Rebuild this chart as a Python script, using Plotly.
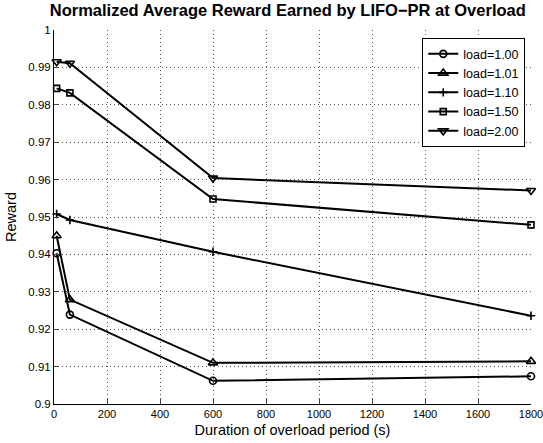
import plotly.graph_objects as go

durations = [10, 60, 600, 1800]
series_names = ["load=1.00", "load=1.01", "load=1.10", "load=1.50", "load=2.00"]
reward_100 = [0.9403, 0.9239, 0.9062, 0.9074]
reward_101 = [0.9450, 0.9279, 0.9110, 0.9114]
reward_110 = [0.9508, 0.9492, 0.9407, 0.9236]
reward_150 = [0.9844, 0.9832, 0.9548, 0.9479]
reward_200 = [0.9915, 0.9911, 0.9604, 0.9571]
series_values = [reward_100, reward_101, reward_110, reward_150, reward_200]
symbols = ["circle-open", "triangle-up-open", "cross-thin-open", "square-open", "triangle-down-open"]
sizes = [7, 8, 6, 6, 8]

y_ticks = [0.9, 0.91, 0.92, 0.93, 0.94, 0.95, 0.96, 0.97, 0.98, 0.99, 1.0]
y_ticktext = ["0.9", "0.91", "0.92", "0.93", "0.94", "0.95", "0.96", "0.97", "0.98", "0.99", "1"]
x_ticks = [0, 200, 400, 600, 800, 1000, 1200, 1400, 1600, 1800]

fig = go.Figure()
for name, vals, sym, sz in zip(series_names, series_values, symbols, sizes):
    fig.add_trace(go.Scatter(
        x=durations, y=vals, name=name, mode="lines+markers",
        line=dict(color="black", width=2),
        marker=dict(symbol=sym, size=sz, color="black",
                    line=dict(color="black", width=1.6)),
        cliponaxis=False,
    ))

font_family = "'Liberation Sans', Arial, Helvetica, sans-serif"
fig.update_layout(
    width=543, height=443,
    margin=dict(l=54, r=12, t=30, b=39),
    paper_bgcolor="white", plot_bgcolor="white",
    font=dict(family=font_family, size=11, color="black"),
    title=dict(text="<b>Normalized Average Reward Earned by LIFO\u2212PR at Overload</b>",
               x=0.53, xanchor="center", y=0.99, yanchor="top",
               font=dict(size=16.5, family=font_family, color="black")),
    showlegend=True,
    legend=dict(x=0.772, y=0.978, xanchor="left", yanchor="top",
                bgcolor="white", bordercolor="black", borderwidth=1,
                font=dict(size=12.5, family=font_family), itemwidth=30,
                tracegroupgap=0),
)
grid_dash = "1px,3px"
fig.update_xaxes(
    range=[0, 1800], tickvals=x_ticks, ticks="inside", ticklen=5,
    showline=True, linecolor="black", linewidth=1, mirror=False,
    showgrid=True, gridcolor="#555", griddash=grid_dash, gridwidth=1,
    zeroline=False, ticklabeloverflow="allow",
    title=dict(text="Duration of overload period (s)", standoff=5,
               font=dict(size=14.5, family=font_family)),
    tickfont=dict(size=11), automargin=False,
)
fig.update_yaxes(
    range=[0.9, 1.0], tickvals=y_ticks, ticktext=y_ticktext,
    ticks="inside", ticklen=5,
    showline=True, linecolor="black", linewidth=1, mirror=False,
    showgrid=True, gridcolor="#555", griddash=grid_dash, gridwidth=1,
    zeroline=False, ticklabeloverflow="allow",
    title=dict(text="Reward", standoff=8, font=dict(size=14.5, family=font_family)),
    tickfont=dict(size=11.5), automargin=False,
)

fig.write_html("out.html", config={"displayModeBar": False},
               post_script="document.body.style.margin='0';")
